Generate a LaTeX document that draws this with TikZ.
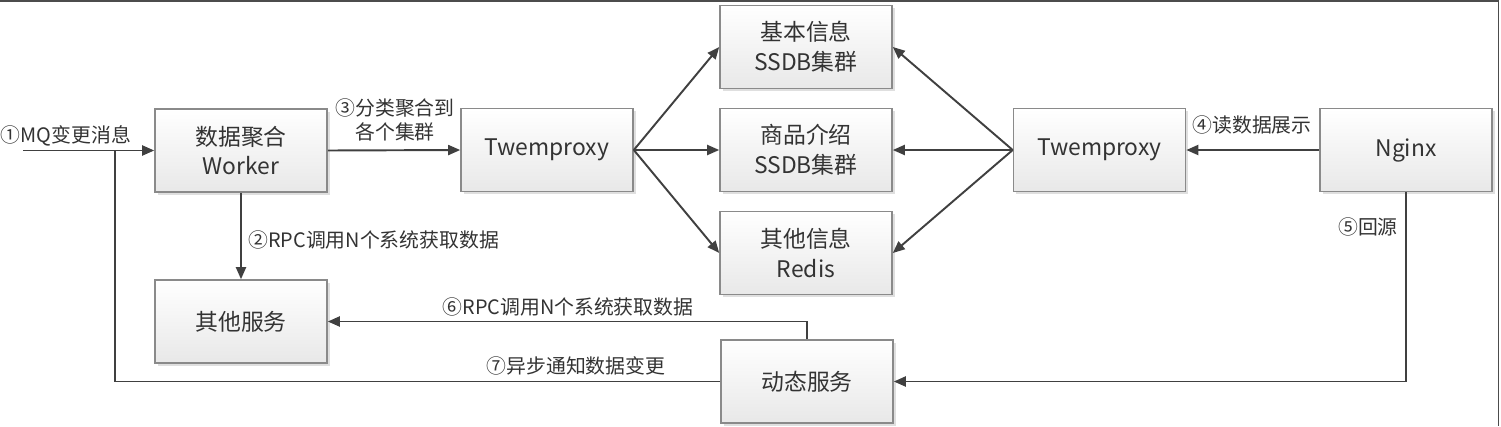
\documentclass[tikz,border=0pt]{standalone}
\usepackage{fontspec}
\setmainfont{Noto Sans CJK SC}
\newfontfamily\lblfont{Noto Sans CJK SC}
\usetikzlibrary{arrows.meta}
\usetikzlibrary{shadows}
\definecolor{linegray}{HTML}{404040}
\definecolor{boxgray}{HTML}{8A8A8A}

\begin{document}
\begin{tikzpicture}[x=0.2mm,y=-0.2mm,box/.style={draw=boxgray,line width=0.9pt,top color=white,bottom color=black!9,drop shadow={opacity=0.25,shadow xshift=0.5mm,shadow yshift=-0.5mm},minimum width=34.4mm,minimum height=16.6mm,inner sep=0pt,align=center,text=black!80,font=\fontsize{13}{17}\selectfont},conn/.style={draw=linegray,line width=1.1pt},arrow/.style={conn,-{Triangle[length=2.4mm,width=2mm]}},lbl/.style={inner sep=0pt,align=center,text=black!80,font=\lblfont\fontsize{11.3}{14}\selectfont}]
    \useasboundingbox (0,0) rectangle (1501,426);
    \draw[black!70,line width=1.1pt] (0,0.6) -- (1498.5,0.6) -- (1498.5,426);
    \node[box] (worker) at (241,150.5) {数据聚合\\Worker};
    \node[box] (oth) at (241,321.5) {其他服务};
    \node[box] (tw1) at (547,150) {Twemproxy};
    \node[box] (base) at (806,47) {基本信息\\SSDB集群};
    \node[box] (goods) at (806,150) {商品介绍\\SSDB集群};
    \node[box] (redis) at (806,253) {其他信息\\Redis};
    \node[box] (tw2) at (1099.5,150) {Twemproxy};
    \node[box] (nginx) at (1406,150) {Nginx};
    \node[box] (dyn) at (807,381.5) {动态服务};
    \coordinate (mq) at (23,150.5);
    \coordinate (join) at (115,150.5);
    \draw[arrow] (mq) -- (worker.west);
    \draw[conn] (dyn.west) -| (join);
    \draw[arrow] (worker.south) -- (oth.north);
    \draw[arrow] (worker.east) -- (tw1.west);
    \draw[arrow] (tw1.east) -- (base.west);
    \draw[arrow] (tw1.east) -- (goods.west);
    \draw[arrow] (tw1.east) -- (redis.west);
    \draw[arrow] (tw2.west) -- (base.east);
    \draw[arrow] (tw2.west) -- (goods.east);
    \draw[arrow] (tw2.west) -- (redis.east);
    \draw[arrow] (nginx.west) -- (tw2.east);
    \draw[arrow] (nginx.south) |- (dyn.east);
    \draw[arrow] (dyn.north) |- (oth.east);
    \node[lbl] (l1) at (66,136) {①MQ变更消息};
    \node[lbl] (l2) at (248,240) [anchor=west] {②RPC调用N个系统获取数据};
    \node[lbl] (l3) at (395,120) {③分类聚合到\\各个集群};
    \node[lbl] (l4) at (1252,125) {④读数据展示};
    \node[lbl] (l5) at (1368,227) {⑤回源};
    \node[lbl] (l6) at (568,307) {⑥RPC调用N个系统获取数据};
    \node[lbl] (l7) at (576,366) {⑦异步通知数据变更};
\end{tikzpicture}
\end{document}
